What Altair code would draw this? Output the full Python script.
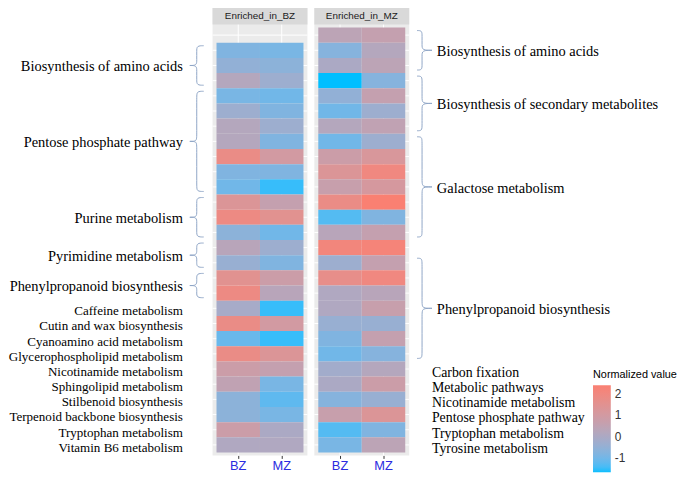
import altair as alt
import pandas as pd

# ---------------- data ----------------
samples = ["BZ", "MZ"]
panel_titles = ["Enriched_in_BZ", "Enriched_in_MZ"]
n_slots = 28

# Enriched_in_BZ panel: 27 pathways, top to bottom (first slot empty)
bz_panel_bz = [-0.8, -0.5, 0.2, -0.9, -0.3, 0.2, 0.2, 1.8, -0.8, -1.0, 1.3, 1.9, -0.6, 0.3,
               -0.4, 1.5, 1.9, -0.1, 1.8, -1.1, 1.8, 0.8, 0.5, -0.6, -0.6, 0.8, 0.1]
bz_panel_mz = [-0.9, -0.6, -0.3, -1.0, -0.8, -0.3, -0.8, 1.0, -0.8, -1.5, 0.6, 1.5, -1.0, -0.3,
               -0.8, 0.8, 0.3, -1.5, 1.0, -1.5, 1.3, 0.6, -0.9, -1.2, -0.9, 0.0, 0.1]
# Enriched_in_MZ panel: 28 pathways, top to bottom
mz_panel_bz = [0.4, -0.7, 0.0, -1.65, -0.5, -1.0, 0.2, -1.0, 0.8, 1.3, 0.7, 1.8, -1.3, 0.3,
               2.1, -0.3, 1.7, 0.1, 0.1, -0.4, -0.8, -1.0, -0.2, 0.0, -0.7, 0.7, -1.3, -0.9]
mz_panel_mz = [0.6, 0.2, 0.4, -0.7, 0.6, -0.3, 0.5, -0.3, 1.2, 2.0, 1.1, 2.4, -0.8, 0.6,
               2.2, 0.6, 2.0, 0.3, 0.7, -0.4, 0.6, -0.7, 0.2, 0.8, -0.4, 1.3, -0.8, 0.4]

# left annotations (rows of the BZ panel, 1-based)
left_group_labels = ["Biosynthesis  of amino acids", "Pentose phosphate  pathway",
                     "Purine metabolism", "Pyrimidine metabolism", "Phenylpropanoid biosynthesis"]
left_group_first = [1, 4, 11, 14, 16]
left_group_last = [3, 10, 13, 15, 17]
left_single_labels = ["Caffeine metabolism", "Cutin and wax biosynthesis",
                      "Cyanoamino acid metabolism", "Glycerophospholipid metabolism",
                      "Nicotinamide metabolism", "Sphingolipid metabolism",
                      "Stilbenoid biosynthesis", "Terpenoid backbone biosynthesis",
                      "Tryptophan metabolism", "Vitamin B6 metabolism"]
left_single_first_row = 18

# right annotations (rows of the MZ panel, 1-based)
right_group_labels = ["Biosynthesis of amino acids", "Biosynthesis of secondary metabolites",
                      "Galactose metabolism", "Phenylpropanoid biosynthesis"]
right_group_first = [1, 4, 8, 16]
right_group_last = [3, 7, 14, 22]
right_single_labels = ["Carbon fixation", "Metabolic pathways", "Nicotinamide metabolism",
                       "Pentose phosphate pathway", "Tryptophan metabolism", "Tyrosine metabolism"]
right_single_first_row = 23

# ---------------- styling ----------------
STRIP = 17
HP = 436                 # heatmap panel height
HT = STRIP + HP          # view height incl. strip
PW = 96
PADY = 3 / 15.5
PADX = 4 / 44
LO, HI = -1.65, 2.4
SERIF = "Liberation Serif"
SANS = "Liberation Sans"
BRACE = "#8FA6C6"
LABEL_BLUE = "#2B2BE0"
GROUP_FS = 14.6
SINGLE_FS = 13.2

yq = alt.Scale(domain=[-PADY, n_slots + PADY], range=[STRIP, HT], nice=False, zero=False)

color_scale = alt.Scale(domain=[LO, HI], range=["#00BFFF", "#FA8072"], interpolate="lab")
legend = alt.Legend(title="Normalized value", orient="none", legendX=591, legendY=366,
                    gradientLength=88, gradientThickness=18, values=[-1, 0, 1, 2],
                    titleFont=SANS, titleFontSize=11, titleFontWeight="normal", titleColor="#000",
                    labelFont=SANS, labelFontSize=12, labelColor="#333", labelOffset=4,
                    labelExpr="replace(datum.label, '\u2212', '-')",
                    direction="vertical", titlePadding=5)


def panel_df(offset, bz_vals, mz_vals):
    rows = []
    for i, (a, b) in enumerate(zip(bz_vals, mz_vals)):
        rows.append({"slot": offset + i, "sample": "BZ", "value": a})
        rows.append({"slot": offset + i, "sample": "MZ", "value": b})
    return pd.DataFrame(rows)


xband = alt.Scale(domain=samples, paddingInner=0, paddingOuter=PADX)
yband = alt.Scale(domain=list(range(n_slots)), paddingInner=0, paddingOuter=PADY,
                  range=[STRIP, HT])


def panel(df, title):
    xaxis = alt.Axis(title=None, labelAngle=0, labelColor=LABEL_BLUE, labelFont=SANS,
                     labelFontSize=13, tickColor="#333", tickSize=3, labelPadding=1,
                     domain=False, grid=False, bandPosition=0.5)
    ygrid = alt.Chart(pd.DataFrame({"slot": list(range(n_slots))})).mark_rule(
        color="white", strokeWidth=1).encode(
        y=alt.Y("slot:O", scale=yband, bandPosition=0.5, axis=None))
    xgrid = alt.Chart(pd.DataFrame({"sample": samples})).mark_rule(
        color="white", strokeWidth=1).encode(
        x=alt.X("sample:N", scale=xband, bandPosition=0.5, axis=xaxis))
    tiles = alt.Chart(df).mark_rect(strokeWidth=0).encode(
        x=alt.X("sample:N", scale=xband, axis=xaxis),
        y=alt.Y("slot:O", scale=yband, axis=None),
        color=alt.Color("value:Q", scale=color_scale, legend=legend),
    )
    hdr = pd.DataFrame({"t": [title]})
    strip = alt.Chart(hdr).mark_rect(color="#D9D9D9").encode(
        x=alt.value(0), x2=alt.value(PW), y=alt.value(0), y2=alt.value(STRIP))
    strip_text = alt.Chart(hdr).mark_text(font=SANS, fontSize=10, color="#1A1A1A",
                                          baseline="middle").encode(
        text="t:N", x=alt.value(PW / 2), y=alt.value(STRIP / 2))
    return alt.layer(ygrid, xgrid, tiles, strip, strip_text).properties(
        width=PW, height=HT, view=alt.ViewBackground(fill="#EBEBEB", stroke=None))


def brace_df(firsts, lasts, slot_offset, end_val):
    pts = []
    for g, (a, b) in enumerate(zip(firsts, lasts)):
        s0 = a - 1 + slot_offset
        s1 = b - 1 + slot_offset
        top = s0 + 0.2
        bot = s1 + 1 - 0.2
        mid = (s0 + s1 + 1) / 2
        q = 0.35
        upper = [(end_val, top), (1, top), (1, top + q), (1, mid - q), (1, mid), (0, mid)]
        lower = [(end_val, bot), (1, bot), (1, bot - q), (1, mid + q), (1, mid), (0, mid)]
        for half, seq in (("u", upper), ("l", lower)):
            for k, (bx, by) in enumerate(seq):
                pts.append({"grp": f"{g}{half}", "ord": k, "bx": bx, "by": by})
    return pd.DataFrame(pts)


def label_df(group_labels, firsts, lasts, single_labels, single_first, slot_offset):
    rows = []
    for lab, a, b in zip(group_labels, firsts, lasts):
        rows.append({"label": lab, "pos": (a - 1 + b) / 2 + slot_offset, "kind": "g"})
    for i, lab in enumerate(single_labels):
        r = single_first + i
        rows.append({"label": lab, "pos": r - 1 + slot_offset + 0.5, "kind": "s"})
    return pd.DataFrame(rows)


def text_layer(df, kind, x, align, fs, dy):
    return alt.Chart(df).transform_filter(alt.datum.kind == kind).mark_text(
        font=SERIF, fontSize=fs, color="#000", align=align, baseline="middle", dy=dy).encode(
        x=alt.value(x), y=alt.Y("pos:Q", scale=yq, axis=None), text="label:N")


# left side
LW = 205
left_labels = label_df(left_group_labels, left_group_first, left_group_last,
                       left_single_labels, left_single_first_row, 1)
left_brace = alt.Chart(brace_df(left_group_first, left_group_last, 1, 2)).mark_line(
    color=BRACE, strokeWidth=1, interpolate="basis").encode(
    x=alt.X("bx:Q", scale=alt.Scale(domain=[0, 2], range=[183, 197]), axis=None),
    y=alt.Y("by:Q", scale=yq, axis=None), detail="grp:N", order="ord:Q")
left = alt.layer(
    left_brace,
    text_layer(left_labels, "g", 176, "right", GROUP_FS, 2),
    text_layer(left_labels, "s", 176, "right", SINGLE_FS, 3),
).properties(width=LW, height=HT, view=alt.ViewBackground(stroke=None))

# right side
RW = 215
right_labels = label_df(right_group_labels, right_group_first, right_group_last,
                        right_single_labels, right_single_first_row, 0)
right_brace = alt.Chart(brace_df(right_group_first, right_group_last, 0, 1.5)).mark_line(
    color=BRACE, strokeWidth=1, interpolate="basis").encode(
    x=alt.X("bx:Q", scale=alt.Scale(domain=[0, 2], range=[22, 2]), axis=None),
    y=alt.Y("by:Q", scale=yq, axis=None), detail="grp:N", order="ord:Q")
right = alt.layer(
    right_brace,
    text_layer(right_labels, "g", 27, "left", GROUP_FS, 2),
    text_layer(right_labels, "s", 22, "left", 14, 4),
).properties(width=RW, height=HT, view=alt.ViewBackground(stroke=None))

bz = panel(panel_df(1, bz_panel_bz, bz_panel_mz), panel_titles[0])
mz = panel(panel_df(0, mz_panel_bz, mz_panel_mz), panel_titles[1])

chart = alt.hconcat(
    left,
    alt.hconcat(bz, mz, spacing=5),
    right,
    spacing=0,
).properties(padding={"left": 0, "top": -4, "right": 0, "bottom": 0}).configure_view(stroke=None)

chart.save("out.html", embed_options={"renderer": "svg", "actions": False})
